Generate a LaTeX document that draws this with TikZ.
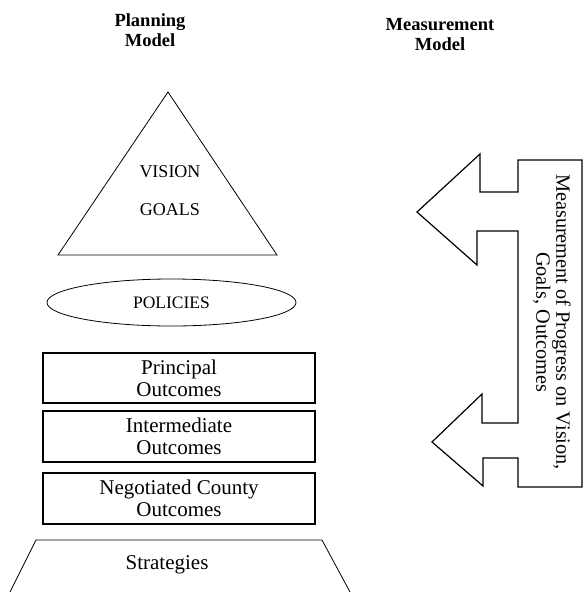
\documentclass[tikz,border=0pt]{standalone}
\usepackage{fontspec}
\setmainfont{Liberation Serif}
\usetikzlibrary{shapes.geometric}

\begin{document}
\begin{tikzpicture}[x=1pt,y=-1pt,
  outbox/.style={draw,line width=1.2pt,minimum width=272pt,minimum height=50pt,inner sep=0pt,align=center,font=\fontsize{21}{22}\selectfont},
  txt/.style={inner sep=0pt,font=\fontsize{21}{22}\selectfont},
  capstxt/.style={inner sep=0pt,font=\fontsize{18}{20}\selectfont},
  head/.style={align=center,inner sep=0pt,font=\fontsize{18.5}{20}\selectfont\bfseries}]
\useasboundingbox (0,0) rectangle (583,592);
% headings
\node[head] (planhead) at (150,30) {Planning\\Model};
\node[head] (meashead) at (440,35) {Measurement\\Model};
% vision and goals
\draw[line width=0.8pt] (168,92) -- (58,255) -- (277,255) -- cycle;
\node[capstxt] (vision) at (170,172) {VISION};
\node[capstxt] (goals) at (170,210) {GOALS};
% policies
\node[draw,ellipse,line width=0.8pt,minimum width=249pt,minimum height=47pt,inner sep=0pt,font=\fontsize{17.5}{20}\selectfont] (policies) at (171.5,302.5) {POLICIES};
% outcomes
\node[outbox] (principal) at (179,378) {Principal\\Outcomes};
\node[outbox,minimum height=51pt] (intermediate) at (179,436.5) {Intermediate\\Outcomes};
\node[outbox,minimum height=51pt] (county) at (179,498.5) {Negotiated County\\Outcomes};
% strategies
\draw[line width=0.8pt] (10,592) -- (36,540) -- (322,540) -- (350,592);
\node[txt] (strategies) at (167,565) {Strategies};
% measurement arrows
\draw[line width=1.2pt,line join=miter] (582,160) -- (518,160) -- (518,192) -- (480,192) -- (480,154)
  -- (417,212) -- (477,265) -- (477,231) -- (518,231) -- (518,423) -- (482,423) -- (482,394)
  -- (432,442) -- (483,486) -- (483,458) -- (518,458) -- (518,487) -- (582,487) -- cycle;
\node[txt,rotate=-90,align=center,font=\fontsize{20.3}{20}\selectfont] (progress) at (552,322)
  {Measurement of Progress on Vision,\\Goals, Outcomes};
\end{tikzpicture}
\end{document}
